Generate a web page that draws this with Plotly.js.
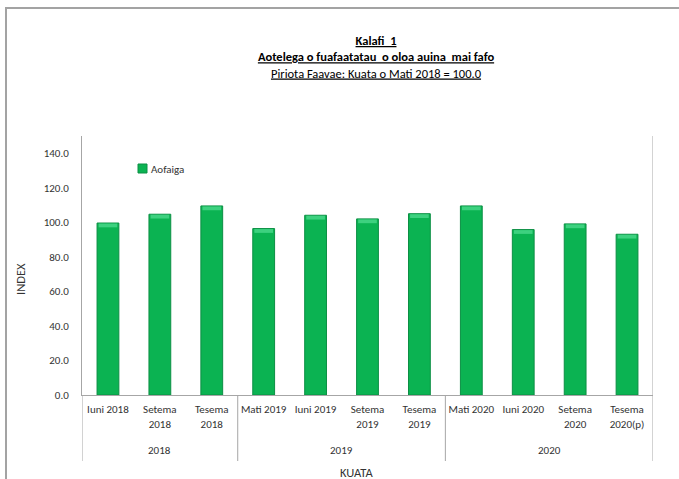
<!DOCTYPE html>
<html>
<head>
<meta charset="utf-8">
<script src="https://cdn.plot.ly/plotly-3.0.1.min.js"></script>
<style>
html,body{margin:0;padding:0;background:#fff;}
#wrap{position:relative;width:679px;height:479px;}
#chart{width:679px;height:479px;}
#frame{position:absolute;left:5px;top:7px;right:0;bottom:0;border-top:2px solid #a3a3a3;border-left:2px solid #a3a3a3;pointer-events:none;}
</style>
</head>
<body>
<div id="wrap"><div id="chart"></div><div id="frame"></div></div>
<script>
// Data
var quarters = ["Iuni 2018","Setema 2018","Tesema 2018","Mati 2019","Iuni 2019","Setema 2019","Tesema 2019","Mati 2020","Iuni 2020","Setema 2020","Tesema 2020(p)"];
var quarterLabels = ["Iuni 2018","Setema<br>2018","Tesema<br>2018","Mati 2019","Iuni 2019","Setema<br>2019","Tesema<br>2019","Mati 2020","Iuni 2020","Setema<br>2020","Tesema<br>2020(p)"];
var aofaiga = [99.6, 104.7, 109.5, 96.4, 104.1, 102.0, 105.0, 109.5, 95.8, 99.1, 93.1];
var years = ["2018","2019","2020"];
var yearStart = [0, 3, 7];
var yearEnd = [2, 6, 10];
var yTicks = [0, 20, 40, 60, 80, 100, 120, 140];

var FONT = "Carlito, Lato, 'Liberation Sans', sans-serif";
var TXT = "#333333";
var LINE = "#a6a6a6";

var capH = 2.2;
var traces = [
  {
    type: "bar", name: "Aofaiga", x: quarters, y: aofaiga, width: 0.42,
    marker: {color: "#0bb352", line: {color: "#0c8f44", width: 1}},
    showlegend: false, hoverinfo: "x+y"
  },
  {
    type: "bar", name: "cap", x: quarters,
    y: aofaiga.map(function(){return capH;}),
    base: aofaiga.map(function(v){return v - capH - 0.3;}),
    width: 0.36,
    marker: {color: "#3dd17f", line: {width: 0}},
    showlegend: false, hoverinfo: "skip"
  }
];

var plotBottomPx = 395, plotH = 259;
function py(p){ return (plotBottomPx - p) / plotH; }

var shapes = [];
// group dividers
var divs = [-0.5];
for (var i = 0; i < yearEnd.length; i++) divs.push(yearEnd[i] + 0.5);
divs.forEach(function(d, k){
  shapes.push({type:"line", xref:"x", yref:"paper", x0:d, x1:d,
    y0: (k === divs.length-1) ? 1 : 0, y1: py(461), line:{color:LINE, width:1}});
});
// legend swatch
shapes.push({type:"rect", xref:"paper", yref:"paper",
  x0:(138-82)/571, x1:(147-82)/571, y0:py(173), y1:py(164),
  fillcolor:"#0bb352", line:{color:"#0c8f44", width:1}});

var annotations = [];
for (var j = 0; j < years.length; j++) {
  annotations.push({xref:"x", yref:"paper", x:(yearStart[j]+yearEnd[j])/2, y:py(450),
    text:years[j], showarrow:false, xanchor:"center", yanchor:"middle",
    font:{family:FONT, size:11, color:TXT}});
}
annotations.push({xref:"paper", yref:"paper", x:(149-82)/571, y:py(169), text:"Aofaiga",
  showarrow:false, xanchor:"left", yanchor:"middle", font:{family:FONT, size:11, color:TXT}});
annotations.push({xref:"paper", yref:"paper", x:(20-82)/571, y:py(279), text:"INDEX",
  showarrow:false, textangle:-90, xanchor:"center", yanchor:"middle",
  font:{family:FONT, size:12.5, color:TXT}});
annotations.push({xref:"paper", yref:"paper", x:(356-82)/571, y:py(472), text:"KUATA",
  showarrow:false, xanchor:"center", yanchor:"middle", font:{family:FONT, size:12.5, color:TXT}});

var layout = {
  width: 679, height: 479,
  margin: {l: 82, r: 26, t: 136, b: 84},
  paper_bgcolor: "#ffffff", plot_bgcolor: "#ffffff",
  barmode: "overlay",
  showlegend: false,
  title: {
    text: "<b><u>Kalafi  1</u></b><br><b><u>Aotelega o fuafaatatau \u00a0o oloa auina \u00a0mai fafo</u></b><br><u>Piriota Faavae: Kuata o Mati 2018 = 100.0</u>",
    font: {family: FONT, size: 12.5, color: "#000000"},
    xref: "container", yref: "container", x: 376/679, xanchor: "center",
    y: 1 - 45/479, yanchor: "top"
  },
  xaxis: {
    type: "category", range: [-0.5, 10.5], tickvals: quarters, ticktext: quarterLabels,
    showline: true, linecolor: LINE, linewidth: 1, ticks: "", showgrid: false, zeroline: false,
    ticklabelstandoff: 4,
    tickfont: {family: FONT, size: 11, color: TXT}, fixedrange: true
  },
  yaxis: {
    range: [0, 150], tickvals: yTicks, tickformat: ".1f",
    showline: true, linecolor: LINE, linewidth: 1, ticks: "", showgrid: false, zeroline: false,
    ticklabelstandoff: 10,
    tickfont: {family: FONT, size: 11, color: TXT}, fixedrange: true
  },
  shapes: shapes,
  annotations: annotations
};

Plotly.newPlot("chart", traces, layout, {displayModeBar: false, staticPlot: true});
</script>
</body>
</html>
